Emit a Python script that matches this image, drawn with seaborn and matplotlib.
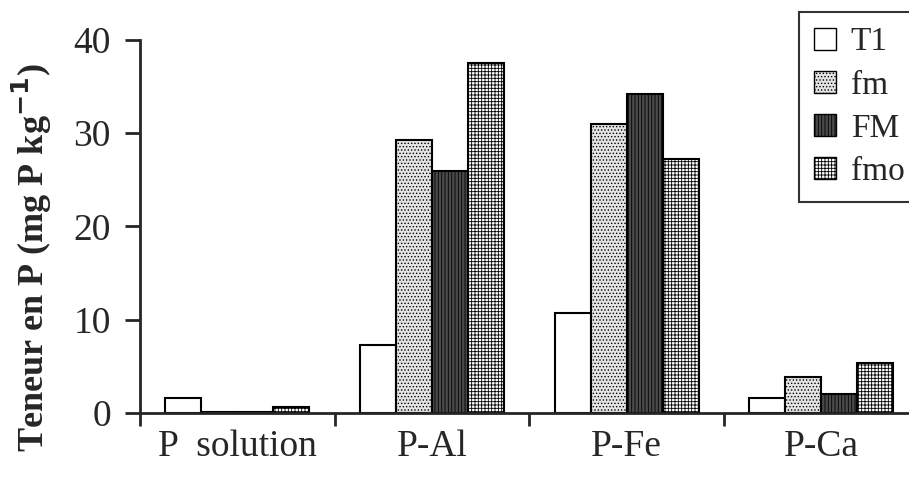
import pandas as pd
import matplotlib
matplotlib.use('Agg')
import matplotlib.pyplot as plt
import seaborn as sns
from matplotlib.patches import Patch

# donnees
fractions = ['P  solution', 'P-Al', 'P-Fe', 'P-Ca']
traitements = ['T1', 'fm', 'FM', 'fmo']
t1 = [1.6, 7.3, 10.7, 1.6]
fm = [0.15, 29.3, 31.0, 3.9]
FM = [0.15, 26.0, 34.2, 2.0]
fmo = [0.6, 37.5, 27.2, 5.4]

rows = []
for nom, vals in zip(traitements, [t1, fm, FM, fmo]):
    for frac, v in zip(fractions, vals):
        rows.append({'fraction': frac, 'traitement': nom, 'teneur': v})
df = pd.DataFrame(rows)

sns.set_style('ticks')
plt.rcParams['font.family'] = ['Liberation Serif', 'DejaVu Serif']
plt.rcParams['hatch.linewidth'] = 0.6

couleurs = {'T1': 'white', 'fm': '#e4e4e4', 'FM': '#4a4a4a', 'fmo': 'white'}
hachures = {'T1': '', 'fm': '.....', 'FM': '|||||', 'fmo': '+++++'}

fig = plt.figure(figsize=(9.09, 4.8), dpi=100)
ax = fig.add_axes([140/909, 67/480, 1 - 140/909, 373/480])

sns.barplot(data=df, x='fraction', y='teneur', hue='traitement', order=fractions,
            hue_order=traitements, palette=couleurs, width=0.74, edgecolor='black',
            linewidth=1.5, saturation=1, ax=ax, legend=False)

for cont, nom in zip(ax.containers, traitements):
    for b in cont:
        b.set_hatch(hachures[nom])
        b.set_edgecolor('black')

ax.set_xlim(-0.5, 3.45)
ax.set_ylim(0, 40)
ax.set_yticks([0, 10, 20, 30, 40])
ax.set_xticks([-0.5, 0.5, 1.5, 2.5], minor=True)
ax.tick_params(axis='x', which='major', length=0, pad=12, labelsize=27)
ax.tick_params(axis='x', which='minor', length=9, width=2, direction='out')
ax.tick_params(axis='y', length=11, width=2, labelsize=27, pad=10)
for s in ['top', 'right']:
    ax.spines[s].set_visible(False)
for s in ['left', 'bottom']:
    ax.spines[s].set_linewidth(2)
ax.set_xlabel('')
ax.set_ylabel('')

fig.text(32/909, 1 - 258/480, 'Teneur en P (mg P kg$^{\\mathbf{-1}}$)', rotation=90,
         ha='center', va='center', fontsize=26, fontweight='bold')

poignees = [Patch(facecolor=couleurs[n], edgecolor='black', hatch=hachures[n], label=n)
            for n in traitements]
leg = fig.legend(handles=poignees, loc='upper left', bbox_to_anchor=(799/909, 1 - 12/480),
                 frameon=True, fancybox=False, fontsize=24, handlelength=0.65,
                 handleheight=0.65, handletextpad=0.45, labelspacing=0.38,
                 borderpad=0.45, borderaxespad=0)
leg.get_frame().set_edgecolor('black')
leg.get_frame().set_linewidth(1.5)

fig.savefig('out.png', dpi=100)
